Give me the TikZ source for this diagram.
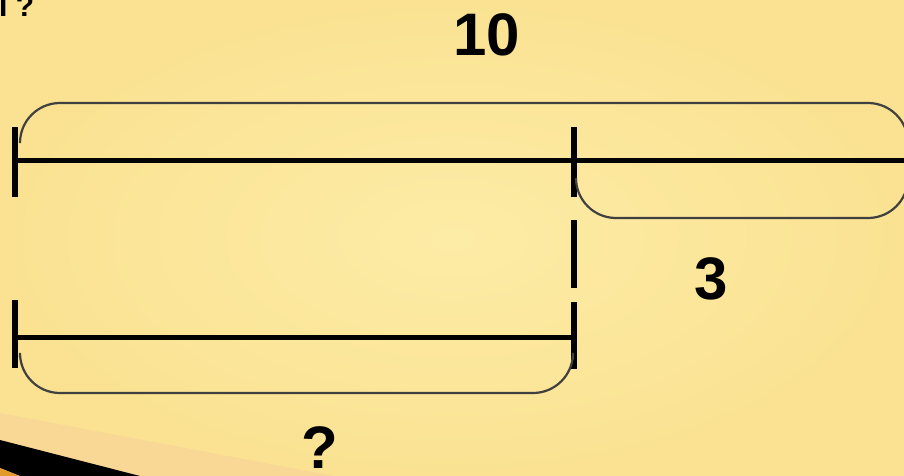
\documentclass[tikz,border=0pt]{standalone}
\usepackage{fontspec}
\setmainfont{Liberation Sans}
\usepackage{tikz}
\definecolor{slidein}{HTML}{FDECA6}
\definecolor{slideout}{HTML}{FAE292}
\definecolor{peach}{HTML}{F9D896}
\definecolor{deeporange}{HTML}{E39A2C}
\tikzstyle{bar} = [draw, line width=5pt]
\tikzstyle{tick} = [draw, line width=5.5pt]
\tikzstyle{brace} = [draw, black!75, line width=2.2pt, rounded corners=40pt]
\tikzstyle{num} = [font=\fontsize{60}{60}\selectfont\bfseries, inner sep=0pt]

\begin{document}
\begin{tikzpicture}[x=1pt, y=-1pt]

	% Background
	\useasboundingbox (0,0) rectangle (904,476);
	\shade [inner color=slidein, outer color=slideout] (0,0) rectangle (904,476);
	\fill [peach] (0,413) -- (334,476) -- (0,476) -- cycle;
	\fill [black] (0,440) -- (140,476) -- (20,476) -- (0,468) -- cycle;
	\fill [deeporange] (0,468) -- (20,476) -- (0,476) -- cycle;

	% Place nodes
	\coordinate (wholeL) at (15,160);
	\coordinate (wholeM) at (574,160);
	\coordinate (wholeR) at (904,160);
	\coordinate (partL) at (15,337);
	\coordinate (partR) at (574,337);
	\node [num] (ten) at (487,35) {10};
	\node [num] (three) at (711,279) {3};
	\node [num] (unknown) at (320,448) {?};
	\node [font=\fontsize{30}{30}\selectfont\bfseries, inner sep=0pt,
		anchor=base west] (cut) at (-1,17) {I ?};

	% Draw edges
	\path [bar] (wholeL) -- (wholeR);
	\path [bar] (partL) -- (partR);
	\path [tick] ([yshift=33pt]wholeL) -- ([yshift=-37pt]wholeL);
	\path [tick] ([yshift=33pt]wholeM) -- ([yshift=-37pt]wholeM);
	\path [tick] ([yshift=-60pt]wholeM) -- ([yshift=-128pt]wholeM);
	\path [tick] ([yshift=37pt]partL) -- ([yshift=-31pt]partL);
	\path [tick] ([yshift=35pt]partR) -- ([yshift=-32pt]partR);
	\path [brace] ([xshift=5pt, yshift=18pt]wholeL) -- (20,103) -- (908,103)
		-- (908,218) -- (576,218) -- ([xshift=2pt, yshift=-18pt]wholeM);
	\path [brace] ([xshift=5pt, yshift=-20pt]partL) -- (20,393) -- (573,393)
		-- ([xshift=-1pt, yshift=-22pt]partR);
\end{tikzpicture}
\end{document}
